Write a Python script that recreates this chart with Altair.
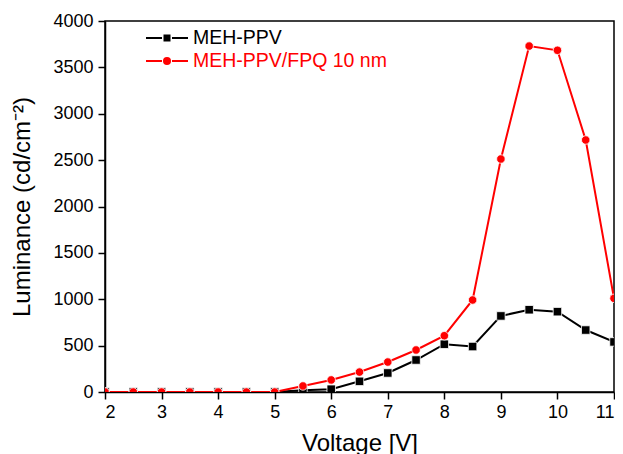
import altair as alt
import pandas as pd

voltage = [2, 2.5, 3, 3.5, 4, 4.5, 5, 5.5, 6, 6.5, 7, 7.5, 8, 8.5, 9, 9.5, 10, 10.5, 11]
meh_ppv = [0, 0, 0, 0, 0, 0, 0, 20, 30, 115, 205, 345, 515, 490, 820, 887, 866, 668, 540]
meh_fpq = [0, 0, 0, 0, 0, 0, 0, 65, 130, 215, 323, 453, 607, 992, 2512, 3730, 3684, 2717, 1010]
series_names = ["MEH-PPV", "MEH-PPV/FPQ 10 nm"]
series_colors = ["black", "red"]
series_shapes = ["square", "circle"]
x_ticks = [2, 3, 4, 5, 6, 7, 8, 9, 10, 11]
y_ticks = [0, 500, 1000, 1500, 2000, 2500, 3000, 3500, 4000]

rows = []
for v, a in zip(voltage, meh_ppv):
    rows.append({"V": v, "L": a, "series": series_names[0]})
for v, b in zip(voltage, meh_fpq):
    rows.append({"V": v, "L": b, "series": series_names[1]})
df = pd.DataFrame(rows)

FONT = "Liberation Sans"

sq_path = "M-2.1,0L-0.5,0M0.5,0L2.1,0M-0.25,-0.25L0.25,-0.25L0.25,0.25L-0.25,0.25Z"
ci_path = "M-2.1,0L-0.5,0M0.5,0L2.1,0M0.3,0A0.3,0.3,0,1,1,-0.3,0A0.3,0.3,0,1,1,0.3,0Z"


def pick(a, b):
    return {"expr": f"datum.value == '{series_names[0]}' ? '{a}' : '{b}'"}


legend = alt.Legend(
    orient="none",
    legendX=51,
    legendY=6,
    title=None,
    padding=0,
    labelFont=FONT,
    labelFontSize=19.5,
    labelOffset=15,
    labelLimit=0,
    symbolSize=400,
    symbolStrokeWidth=2,
    rowPadding=2,
    symbolType=pick(sq_path, ci_path),
    symbolFillColor=pick(series_colors[0], series_colors[1]),
    symbolStrokeColor=pick(series_colors[0], series_colors[1]),
    symbolOpacity=1,
    labelColor=pick(series_colors[0], series_colors[1]),
)

x = alt.X(
    "V:Q",
    scale=alt.Scale(domain=[2, 11], nice=False, zero=False),
    axis=alt.Axis(values=x_ticks, title="Voltage [V]", format="d"),
)
y = alt.Y(
    "L:Q",
    scale=alt.Scale(domain=[0, 4000], nice=False),
    axis=alt.Axis(values=y_ticks, title="Luminance (cd/cm⁻²)", format="d"),
)
color_scale = alt.Scale(domain=series_names, range=series_colors)

base = alt.Chart(df)
lines = base.mark_line(strokeWidth=2, clip=True).encode(
    x=x, y=y, color=alt.Color("series:N", scale=color_scale, legend=legend)
)
point_layers = []
for name, shp in zip(series_names, series_shapes):
    point_layers.append(
        base.transform_filter(alt.datum.series == name)
        .mark_point(filled=True, size=72, opacity=1, clip=True, shape=shp,
                    stroke="white", strokeWidth=0.8)
        .encode(x=x, y=y, color=alt.Color("series:N", scale=color_scale, legend=None))
    )

chart = (
    alt.layer(lines, *point_layers)
    .properties(
        width=509,
        height=371,
        autosize=alt.AutoSizeParams(type="none"),
        padding={"left": 97, "top": 13, "right": 1, "bottom": 70},
        background="white",
    )
    .configure_view(stroke="black", strokeWidth=1.5)
    .configure_axis(
        grid=False,
        domainColor="black",
        domainWidth=1.5,
        tickColor="black",
        tickWidth=1.5,
        tickSize=7,
        labelFont=FONT,
        labelFontSize=18,
        labelColor="black",
        titleFont=FONT,
        titleFontSize=24,
        titleFontWeight="normal",
        titleColor="black",
    )
    .configure_axisX(labelPadding=4, titlePadding=10)
    .configure_axisY(labelPadding=5, titlePadding=18)
)

chart.save("out.html", embed_options={"renderer": "svg", "actions": False})
